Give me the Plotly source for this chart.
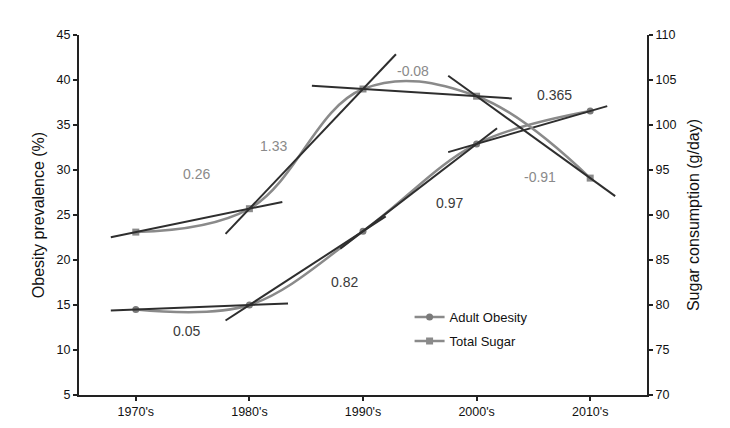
import plotly.graph_objects as go

decades = ["1970's", "1980's", "1990's", "2000's", "2010's"]
obesity = [14.5, 15.0, 23.2, 32.9, 36.55]
sugar = [88.1, 90.7, 104.0, 103.2, 94.1]
obesity_slopes = ["0.05", "0.82", "0.97", "0.365"]
sugar_slopes = ["0.26", "1.33", "-0.08", "-0.91"]

# label positions (x in decade index, y in left-axis units)
obesity_label_pos = [(0.45, 12.1), (1.84, 17.6), (2.76, 26.3), (3.69, 38.3)]
sugar_label_pos = [(0.53, 29.6), (1.21, 32.7), (2.44, 41.0), (3.56, 29.2)]
# how far each tangent line extends before/after its segment
obesity_ext = [(0.22, 0.34), (0.21, 0.2), (0.2, 0.18), (0.25, 0.15)]
sugar_ext = [(0.22, 0.29), (0.21, 0.29), (0.45, 0.31), (0.25, 0.22)]

xs = list(range(len(decades)))
curve_col = "#8a8a8a"
line_col = "#2e2e2e"

fig = go.Figure()

# smoothed curves
fig.add_trace(go.Scatter(x=xs, y=obesity, mode="lines+markers", name="Adult Obesity",
                         legendgroup="a",
                         line=dict(color=curve_col, width=2.5, shape="spline", smoothing=1.0),
                         marker=dict(symbol="circle", size=7, color="#7a7a7a"), yaxis="y"))
fig.add_trace(go.Scatter(x=xs, y=sugar, mode="lines+markers", name="Total Sugar",
                         legendgroup="b",
                         line=dict(color=curve_col, width=2.5, shape="spline", smoothing=1.1),
                         marker=dict(symbol="square", size=7, color="#8a8a8a"), yaxis="y2"))

def tangent(vals, ext, axis):
    for i in range(len(vals) - 1):
        m = vals[i + 1] - vals[i]
        a, b = ext[i]
        x0, x1 = i - a, i + 1 + b
        fig.add_trace(go.Scatter(x=[x0, x1], y=[vals[i] - m * a, vals[i + 1] + m * b],
                                 mode="lines", line=dict(color=line_col, width=2),
                                 showlegend=False, hoverinfo="skip", yaxis=axis))

tangent(obesity, obesity_ext, "y")
tangent(sugar, sugar_ext, "y2")

for txt, (x, y) in zip(obesity_slopes, obesity_label_pos):
    fig.add_annotation(x=x, y=y, xref="x", yref="y", text=txt, showarrow=False,
                       font=dict(size=14, color="#3a3a3a"))
for txt, (x, y) in zip(sugar_slopes, sugar_label_pos):
    fig.add_annotation(x=x, y=y, xref="x", yref="y", text=txt, showarrow=False,
                       font=dict(size=14, color="#8a8a8a"))

axis_common = dict(showgrid=False, zeroline=False, showline=True, linecolor="#222",
                   linewidth=2, ticks="outside", ticklen=4, tickwidth=1.5, tickcolor="#222",
                   tickfont=dict(size=12.5, color="#111"), automargin=False)

fig.update_layout(
    width=730, height=428,
    margin=dict(l=71, r=91, t=27, b=41),
    paper_bgcolor="white", plot_bgcolor="white",
    font=dict(family="Liberation Sans, Arial, sans-serif", color="#111"),
    xaxis=dict(range=[-0.5, 4.5], tickvals=xs, ticktext=decades, **axis_common),
    yaxis=dict(range=[5, 45], dtick=5, title=dict(text="Obesity prevalence (%)", font=dict(size=16), standoff=8),
               **axis_common),
    yaxis2=dict(range=[70, 110], dtick=5, overlaying="y", side="right",
                title=dict(text="Sugar consumption (g/day)", font=dict(size=16), standoff=12),
                **axis_common),
    legend=dict(x=0.582, y=0.258, xanchor="left", yanchor="top", bgcolor="rgba(0,0,0,0)",
                font=dict(size=13, color="#111"), itemwidth=30, tracegroupgap=4),
    showlegend=True,
)

fig.write_html("out.html")
